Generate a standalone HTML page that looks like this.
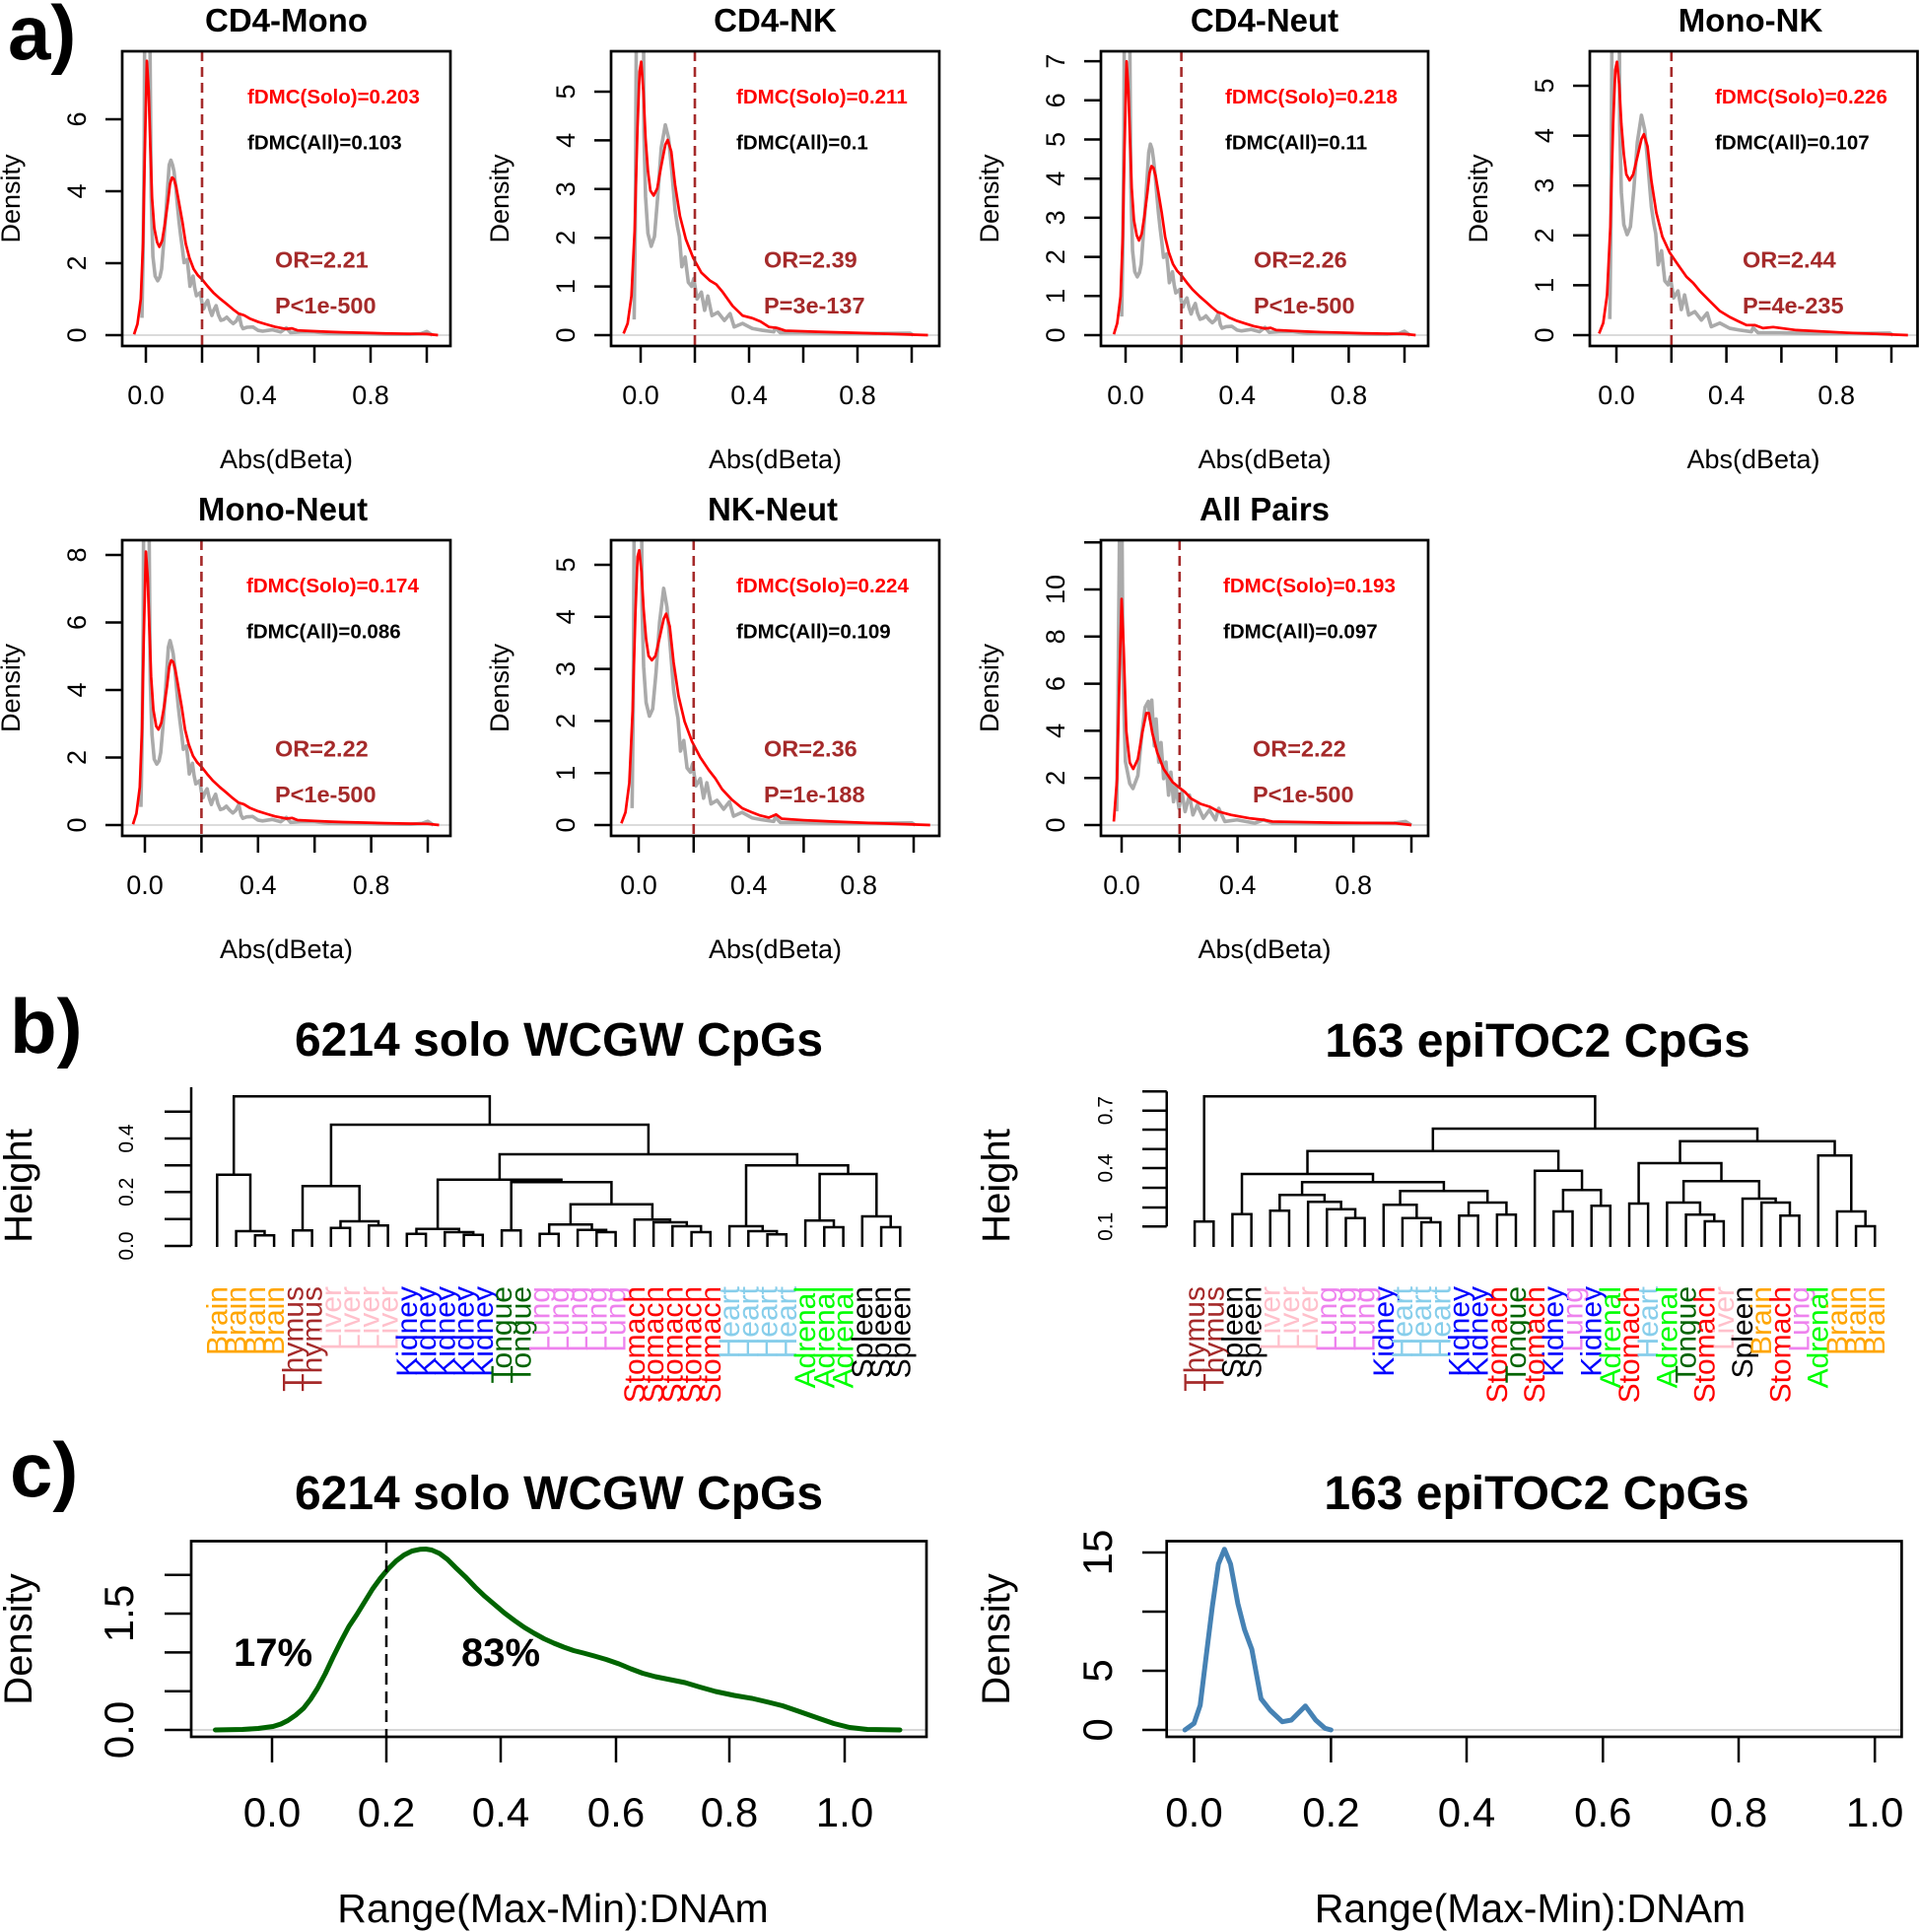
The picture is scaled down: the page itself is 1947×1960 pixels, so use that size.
<!DOCTYPE html>
<html><head><meta charset="utf-8"><style>
html,body{margin:0;padding:0;background:#fff;}
svg{display:block;}
svg text{font-family:"Liberation Sans",Arial,Helvetica,sans-serif;}
.bx{fill:none;stroke:#000;stroke-width:2.7}
.tk{fill:none;stroke:#000;stroke-width:2.5}
.zl{stroke:#cfcfcf;stroke-width:1.4}
.rd{fill:none;stroke:#ff0000;stroke-width:2.7;vector-effect:non-scaling-stroke;stroke-linejoin:round}
.gy{fill:none;stroke:#aaaaaa;stroke-width:3.6;vector-effect:non-scaling-stroke;stroke-linejoin:round}
.dl{stroke:#a52a2a;stroke-width:2.6;stroke-dasharray:10 6}
.t1{font-size:33px;font-weight:bold;text-anchor:middle}
.tl{font-size:27px;text-anchor:middle}
.fs{font-size:20.5px;font-weight:bold;fill:#ff0000}
.fa{font-size:20.5px;font-weight:bold;fill:#000}
.or{font-size:23.5px;font-weight:bold;fill:#a52a2a}
.pl{font-size:78px;font-weight:bold}
.bt{font-size:48px;font-weight:bold;text-anchor:middle}
.ht{font-size:40px;text-anchor:middle}
.dt{font-size:21px;text-anchor:middle}
.ct{font-size:42px;text-anchor:middle}
.lb{font-size:30px;text-anchor:end}
</style></head><body>
<svg width="1947" height="1960" viewBox="0 0 1947 1960" xmlns="http://www.w3.org/2000/svg">
<defs>
<clipPath id="c1"><rect x="124" y="52" width="333" height="299"/></clipPath>
<clipPath id="c2"><rect x="620" y="52" width="333" height="299"/></clipPath>
<clipPath id="c3"><rect x="1117" y="52" width="332" height="299"/></clipPath>
<clipPath id="c4"><rect x="1613" y="52" width="332.5" height="299"/></clipPath>
<clipPath id="c5"><rect x="124" y="548" width="333" height="300"/></clipPath>
<clipPath id="c6"><rect x="620" y="548" width="333" height="300"/></clipPath>
<clipPath id="c7"><rect x="1117" y="548" width="332" height="300"/></clipPath>
</defs>
<rect x="0" y="0" width="1947" height="1960" fill="#fff"/>

<!-- panel letters -->
<text class="pl" x="8" y="60">a)</text>
<text class="pl" x="10" y="1068">b)</text>
<text class="pl" x="10" y="1518">c)</text>

<!-- ============ Plot 1 CD4-Mono ============ -->
<g>
<line class="zl" x1="124" y1="340" x2="457" y2="340"/>
<g clip-path="url(#c1)"><g transform="translate(148,340) scale(285,-159.9)">
<path class="gy" d="M-0.014,0.11 L-0.01,0.5 L-0.006,1.2 L-0.003,2.5 L0,3.5 L0.01,3.5 L0.014,2 L0.019,0.87 L0.025,0.5 L0.033,0.375 L0.042,0.345 L0.05,0.37 L0.056,0.42 L0.064,0.6 L0.071,0.77 L0.078,0.95 L0.083,1.08 L0.089,1.11 L0.095,1.08 L0.1,1.04 L0.106,0.95 L0.112,0.83 L0.118,0.72 L0.124,0.63 L0.13,0.55 L0.136,0.46 L0.142,0.47 L0.147,0.48 L0.152,0.4 L0.157,0.31 L0.162,0.34 L0.168,0.375 L0.174,0.3 L0.18,0.25 L0.187,0.26 L0.194,0.27 L0.2,0.2 L0.206,0.167 L0.213,0.2 L0.22,0.22 L0.228,0.16 L0.235,0.125 L0.242,0.16 L0.25,0.187 L0.258,0.13 L0.267,0.094 L0.278,0.1 L0.288,0.114 L0.3,0.09 L0.311,0.073 L0.322,0.09 L0.332,0.125 L0.34,0.06 L0.346,0.041 L0.36,0.05 L0.381,0.052 L0.4,0.03 L0.416,0.025 L0.45,0.034 L0.48,0.02 L0.5,0.046 L0.515,0.016 L0.55,0.02 L0.6,0.02 L0.65,0.011 L0.7,0.01 L0.77,0.009 L0.85,0.006 L0.94,0.005 L0.98,0.01 L1,0.023 L1.02,0"/>
<path class="rd" d="M-0.042,0.005 L-0.03,0.07 L-0.018,0.23 L-0.01,0.59 L-0.004,1.14 L0.0035,1.74 L0.01,1.55 L0.016,1.19 L0.022,0.87 L0.03,0.68 L0.04,0.59 L0.048,0.56 L0.058,0.6 L0.068,0.71 L0.078,0.84 L0.086,0.96 L0.093,1 L0.1,0.99 L0.108,0.94 L0.118,0.84 L0.13,0.72 L0.142,0.58 L0.155,0.49 L0.17,0.42 L0.185,0.38 L0.2,0.354 L0.22,0.31 L0.24,0.27 L0.265,0.23 L0.29,0.194 L0.31,0.164 L0.33,0.137 L0.35,0.126 L0.37,0.105 L0.4,0.084 L0.43,0.068 L0.46,0.053 L0.5,0.039 L0.52,0.043 L0.54,0.03 L0.6,0.025 L0.65,0.021 L0.7,0.018 L0.77,0.015 L0.85,0.011 L0.92,0.009 L1,0.007 L1.04,0"/>
</g></g>
<line class="dl" x1="205" y1="52" x2="205" y2="351"/>
<rect class="bx" x="124" y="52" width="333" height="299"/>
<path class="tk" d="M148,351v17M205,351v17M262,351v17M319,351v17M376,351v17M433,351v17M107,340h17M107,267h17M107,194h17M107,121h17"/>
<text class="tl" x="148" y="410">0.0</text><text class="tl" x="262" y="410">0.4</text><text class="tl" x="376" y="410">0.8</text>
<text class="tl" transform="translate(87,340) rotate(-90)">0</text>
<text class="tl" transform="translate(87,267) rotate(-90)">2</text>
<text class="tl" transform="translate(87,194) rotate(-90)">4</text>
<text class="tl" transform="translate(87,121) rotate(-90)">6</text>
<text class="tl" transform="translate(20,201.5) rotate(-90)">Density</text>
<text class="tl" x="290.5" y="475">Abs(dBeta)</text>
<text class="t1" x="290.5" y="32">CD4-Mono</text>
<text class="fs" x="251" y="105">fDMC(Solo)=0.203</text>
<text class="fa" x="251" y="151.5">fDMC(All)=0.103</text>
<text class="or" x="279" y="271.5">OR=2.21</text>
<text class="or" x="279" y="318">P&lt;1e-500</text>
</g>

<!-- ============ Plot 2 CD4-NK ============ -->
<g>
<line class="zl" x1="620" y1="340" x2="953" y2="340"/>
<g clip-path="url(#c2)"><g transform="translate(650,340) scale(275,-198.1)">
<path class="gy" d="M-0.024,0.08 L-0.02,0.54 L-0.015,1.8 L-0.012,3 L0.007,3 L0.012,1.04 L0.018,0.71 L0.027,0.52 L0.039,0.455 L0.051,0.505 L0.063,0.71 L0.076,0.96 L0.091,1.077 L0.103,1.01 L0.115,0.84 L0.127,0.64 L0.136,0.555 L0.143,0.505 L0.152,0.35 L0.164,0.4 L0.176,0.27 L0.188,0.25 L0.196,0.29 L0.208,0.185 L0.224,0.22 L0.236,0.127 L0.248,0.2 L0.263,0.1 L0.285,0.117 L0.309,0.075 L0.33,0.11 L0.345,0.042 L0.376,0.06 L0.412,0.034 L0.448,0.025 L0.491,0.017 L0.497,0.037 L0.515,0.012 L0.594,0.012 L0.715,0.008 L0.836,0.008 L0.994,0.01 L1.006,0"/>
<path class="rd" d="M-0.063,0.008 L-0.048,0.06 L-0.034,0.2 L-0.022,0.54 L-0.012,1.05 L-0.004,1.35 L0.002,1.4 L0.01,1.25 L0.018,1.01 L0.027,0.84 L0.036,0.74 L0.048,0.715 L0.061,0.75 L0.075,0.86 L0.091,0.975 L0.1,1 L0.113,0.94 L0.127,0.77 L0.145,0.61 L0.167,0.49 L0.194,0.395 L0.224,0.32 L0.255,0.28 L0.279,0.26 L0.303,0.22 L0.339,0.15 L0.376,0.1 L0.412,0.087 L0.442,0.07 L0.473,0.042 L0.503,0.037 L0.533,0.023 L0.654,0.017 L0.836,0.01 L1.06,0"/>
</g></g>
<line class="dl" x1="705" y1="52" x2="705" y2="351"/>
<rect class="bx" x="620" y="52" width="333" height="299"/>
<path class="tk" d="M650,351v17M705,351v17M760,351v17M815,351v17M870,351v17M925,351v17M603,340h17M603,290.6h17M603,241.2h17M603,191.8h17M603,142.4h17M603,93h17"/>
<text class="tl" x="650" y="410">0.0</text><text class="tl" x="760" y="410">0.4</text><text class="tl" x="870" y="410">0.8</text>
<text class="tl" transform="translate(583,340) rotate(-90)">0</text>
<text class="tl" transform="translate(583,290.6) rotate(-90)">1</text>
<text class="tl" transform="translate(583,241.2) rotate(-90)">2</text>
<text class="tl" transform="translate(583,191.8) rotate(-90)">3</text>
<text class="tl" transform="translate(583,142.4) rotate(-90)">4</text>
<text class="tl" transform="translate(583,93) rotate(-90)">5</text>
<text class="tl" transform="translate(516,201.5) rotate(-90)">Density</text>
<text class="tl" x="786.5" y="475">Abs(dBeta)</text>
<text class="t1" x="786.5" y="32">CD4-NK</text>
<text class="fs" x="747" y="105">fDMC(Solo)=0.211</text>
<text class="fa" x="747" y="151.5">fDMC(All)=0.1</text>
<text class="or" x="775" y="271.5">OR=2.39</text>
<text class="or" x="775" y="318">P=3e-137</text>
</g>

<!-- ============ Plot 3 CD4-Neut ============ -->
<g>
<line class="zl" x1="1117" y1="340" x2="1449" y2="340"/>
<g clip-path="url(#c3)"><g transform="translate(1142,340) scale(283,-171.5)">
<path class="gy" d="M-0.014,0.11 L-0.01,0.5 L-0.006,1.2 L-0.003,2.5 L0,3.5 L0.01,3.5 L0.014,2 L0.019,0.87 L0.025,0.5 L0.033,0.375 L0.042,0.345 L0.05,0.37 L0.056,0.42 L0.064,0.6 L0.071,0.77 L0.078,0.95 L0.083,1.08 L0.089,1.13 L0.095,1.1 L0.1,1.04 L0.106,0.95 L0.112,0.83 L0.118,0.72 L0.124,0.63 L0.13,0.55 L0.136,0.46 L0.142,0.47 L0.147,0.48 L0.152,0.4 L0.157,0.31 L0.162,0.34 L0.168,0.375 L0.174,0.3 L0.18,0.25 L0.187,0.26 L0.194,0.27 L0.2,0.2 L0.206,0.167 L0.213,0.2 L0.22,0.22 L0.228,0.16 L0.235,0.125 L0.242,0.16 L0.25,0.187 L0.258,0.13 L0.267,0.094 L0.278,0.1 L0.288,0.114 L0.3,0.09 L0.311,0.073 L0.322,0.09 L0.332,0.125 L0.34,0.06 L0.346,0.041 L0.36,0.05 L0.381,0.052 L0.4,0.03 L0.416,0.025 L0.45,0.034 L0.48,0.02 L0.5,0.046 L0.515,0.016 L0.55,0.02 L0.6,0.02 L0.65,0.011 L0.7,0.01 L0.77,0.009 L0.85,0.006 L0.94,0.005 L0.98,0.01 L1,0.023 L1.02,0"/>
<path class="rd" d="M-0.042,0.005 L-0.03,0.07 L-0.018,0.23 L-0.01,0.59 L-0.004,1.1 L0.0035,1.62 L0.01,1.45 L0.016,1.15 L0.022,0.87 L0.03,0.68 L0.04,0.59 L0.048,0.56 L0.058,0.6 L0.068,0.71 L0.078,0.84 L0.086,0.96 L0.093,1 L0.1,0.99 L0.108,0.94 L0.118,0.84 L0.13,0.72 L0.142,0.58 L0.155,0.49 L0.17,0.42 L0.185,0.38 L0.2,0.354 L0.22,0.31 L0.24,0.27 L0.265,0.23 L0.29,0.194 L0.31,0.164 L0.33,0.137 L0.35,0.126 L0.37,0.105 L0.4,0.084 L0.43,0.068 L0.46,0.053 L0.5,0.039 L0.52,0.043 L0.54,0.03 L0.6,0.025 L0.65,0.021 L0.7,0.018 L0.77,0.015 L0.85,0.011 L0.92,0.009 L1,0.007 L1.04,0"/>
</g></g>
<line class="dl" x1="1198.6" y1="52" x2="1198.6" y2="351"/>
<rect class="bx" x="1117" y="52" width="332" height="299"/>
<path class="tk" d="M1142,351v17M1198.6,351v17M1255.2,351v17M1311.8,351v17M1368.4,351v17M1425,351v17M1100,340h17M1100,300.3h17M1100,260.6h17M1100,220.9h17M1100,181.2h17M1100,141.5h17M1100,101.8h17M1100,62.1h17"/>
<text class="tl" x="1142" y="410">0.0</text><text class="tl" x="1255.2" y="410">0.4</text><text class="tl" x="1368.4" y="410">0.8</text>
<text class="tl" transform="translate(1080,340) rotate(-90)">0</text>
<text class="tl" transform="translate(1080,300.3) rotate(-90)">1</text>
<text class="tl" transform="translate(1080,260.6) rotate(-90)">2</text>
<text class="tl" transform="translate(1080,220.9) rotate(-90)">3</text>
<text class="tl" transform="translate(1080,181.2) rotate(-90)">4</text>
<text class="tl" transform="translate(1080,141.5) rotate(-90)">5</text>
<text class="tl" transform="translate(1080,101.8) rotate(-90)">6</text>
<text class="tl" transform="translate(1080,62.1) rotate(-90)">7</text>
<text class="tl" transform="translate(1013,201.5) rotate(-90)">Density</text>
<text class="tl" x="1283" y="475">Abs(dBeta)</text>
<text class="t1" x="1283" y="32">CD4-Neut</text>
<text class="fs" x="1243" y="105">fDMC(Solo)=0.218</text>
<text class="fa" x="1243" y="151.5">fDMC(All)=0.11</text>
<text class="or" x="1272" y="271.5">OR=2.26</text>
<text class="or" x="1272" y="318">P&lt;1e-500</text>
</g>

<!-- ============ Plot 4 Mono-NK ============ -->
<g>
<line class="zl" x1="1613" y1="340" x2="1945.5" y2="340"/>
<g clip-path="url(#c4)"><g transform="translate(1640,340) scale(279,-203.9)">
<path class="gy" d="M-0.024,0.08 L-0.02,0.54 L-0.015,1.8 L-0.012,3 L0.007,3 L0.012,1.04 L0.018,0.71 L0.027,0.55 L0.039,0.5 L0.051,0.54 L0.063,0.72 L0.076,0.96 L0.091,1.094 L0.103,1.02 L0.115,0.84 L0.127,0.64 L0.136,0.555 L0.143,0.505 L0.152,0.35 L0.164,0.42 L0.176,0.27 L0.188,0.25 L0.196,0.29 L0.208,0.185 L0.224,0.22 L0.236,0.127 L0.248,0.2 L0.263,0.1 L0.285,0.117 L0.309,0.075 L0.33,0.11 L0.345,0.042 L0.376,0.06 L0.412,0.034 L0.448,0.025 L0.491,0.017 L0.497,0.037 L0.515,0.012 L0.594,0.012 L0.715,0.008 L0.836,0.008 L0.994,0.01 L1.006,0"/>
<path class="rd" d="M-0.063,0.008 L-0.048,0.06 L-0.034,0.2 L-0.022,0.54 L-0.012,1.05 L-0.004,1.32 L0.002,1.36 L0.01,1.25 L0.018,1.05 L0.027,0.9 L0.036,0.8 L0.048,0.77 L0.061,0.8 L0.075,0.88 L0.091,0.975 L0.1,1 L0.113,0.94 L0.127,0.77 L0.145,0.61 L0.167,0.49 L0.194,0.41 L0.224,0.35 L0.255,0.29 L0.279,0.26 L0.303,0.22 L0.339,0.17 L0.376,0.12 L0.412,0.09 L0.442,0.07 L0.473,0.05 L0.503,0.05 L0.533,0.035 L0.57,0.04 L0.654,0.025 L0.836,0.012 L1.06,0"/>
</g></g>
<line class="dl" x1="1695.8" y1="52" x2="1695.8" y2="351"/>
<rect class="bx" x="1613" y="52" width="332.5" height="299"/>
<path class="tk" d="M1640,351v17M1695.8,351v17M1751.6,351v17M1807.4,351v17M1863.2,351v17M1919,351v17M1596,340h17M1596,289.4h17M1596,238.8h17M1596,188.2h17M1596,137.6h17M1596,87h17"/>
<text class="tl" x="1640" y="410">0.0</text><text class="tl" x="1751.6" y="410">0.4</text><text class="tl" x="1863.2" y="410">0.8</text>
<text class="tl" transform="translate(1576,340) rotate(-90)">0</text>
<text class="tl" transform="translate(1576,289.4) rotate(-90)">1</text>
<text class="tl" transform="translate(1576,238.8) rotate(-90)">2</text>
<text class="tl" transform="translate(1576,188.2) rotate(-90)">3</text>
<text class="tl" transform="translate(1576,137.6) rotate(-90)">4</text>
<text class="tl" transform="translate(1576,87) rotate(-90)">5</text>
<text class="tl" transform="translate(1509,201.5) rotate(-90)">Density</text>
<text class="tl" x="1779" y="475">Abs(dBeta)</text>
<text class="t1" x="1776" y="32">Mono-NK</text>
<text class="fs" x="1740" y="105">fDMC(Solo)=0.226</text>
<text class="fa" x="1740" y="151.5">fDMC(All)=0.107</text>
<text class="or" x="1768" y="271.5">OR=2.44</text>
<text class="or" x="1768" y="318">P=4e-235</text>
</g>

<!-- ============ Plot 5 Mono-Neut ============ -->
<g>
<line class="zl" x1="124" y1="837" x2="457" y2="837"/>
<g clip-path="url(#c5)"><g transform="translate(147,837) scale(287,-167.1)">
<path class="gy" d="M-0.014,0.11 L-0.01,0.5 L-0.006,1.2 L-0.003,2.5 L0,3.5 L0.01,3.5 L0.014,2 L0.019,0.87 L0.025,0.55 L0.033,0.4 L0.042,0.37 L0.05,0.39 L0.056,0.44 L0.064,0.6 L0.071,0.77 L0.078,0.95 L0.083,1.08 L0.089,1.12 L0.095,1.08 L0.1,1.04 L0.106,0.95 L0.112,0.83 L0.118,0.72 L0.124,0.63 L0.13,0.55 L0.136,0.46 L0.142,0.47 L0.147,0.48 L0.152,0.4 L0.157,0.31 L0.162,0.34 L0.168,0.375 L0.174,0.3 L0.18,0.25 L0.187,0.26 L0.194,0.27 L0.2,0.2 L0.206,0.167 L0.213,0.2 L0.22,0.22 L0.228,0.16 L0.235,0.125 L0.242,0.16 L0.25,0.187 L0.258,0.13 L0.267,0.094 L0.278,0.1 L0.288,0.114 L0.3,0.09 L0.311,0.073 L0.322,0.09 L0.332,0.125 L0.34,0.06 L0.346,0.041 L0.36,0.05 L0.381,0.052 L0.4,0.03 L0.416,0.025 L0.45,0.034 L0.48,0.02 L0.5,0.046 L0.515,0.016 L0.55,0.02 L0.6,0.02 L0.65,0.011 L0.7,0.01 L0.77,0.009 L0.85,0.006 L0.94,0.005 L0.98,0.01 L1,0.023 L1.02,0"/>
<path class="rd" d="M-0.042,0.005 L-0.03,0.07 L-0.018,0.23 L-0.01,0.59 L-0.004,1.14 L0.0035,1.66 L0.01,1.5 L0.016,1.19 L0.022,0.9 L0.03,0.7 L0.04,0.6 L0.048,0.58 L0.058,0.62 L0.068,0.72 L0.078,0.84 L0.086,0.96 L0.093,1 L0.1,0.99 L0.108,0.94 L0.118,0.84 L0.13,0.72 L0.142,0.58 L0.155,0.49 L0.17,0.42 L0.185,0.38 L0.2,0.354 L0.22,0.31 L0.24,0.27 L0.265,0.23 L0.29,0.194 L0.31,0.164 L0.33,0.137 L0.35,0.126 L0.37,0.105 L0.4,0.084 L0.43,0.068 L0.46,0.053 L0.5,0.039 L0.52,0.043 L0.54,0.03 L0.6,0.025 L0.65,0.021 L0.7,0.018 L0.77,0.015 L0.85,0.011 L0.92,0.009 L1,0.007 L1.04,0"/>
</g></g>
<line class="dl" x1="204.4" y1="548" x2="204.4" y2="848"/>
<rect class="bx" x="124" y="548" width="333" height="300"/>
<path class="tk" d="M147,848v17M204.4,848v17M261.8,848v17M319.2,848v17M376.6,848v17M434,848v17M107,837h17M107,768.5h17M107,700h17M107,631.5h17M107,563h17"/>
<text class="tl" x="147" y="907">0.0</text><text class="tl" x="261.8" y="907">0.4</text><text class="tl" x="376.6" y="907">0.8</text>
<text class="tl" transform="translate(87,837) rotate(-90)">0</text>
<text class="tl" transform="translate(87,768.5) rotate(-90)">2</text>
<text class="tl" transform="translate(87,700) rotate(-90)">4</text>
<text class="tl" transform="translate(87,631.5) rotate(-90)">6</text>
<text class="tl" transform="translate(87,563) rotate(-90)">8</text>
<text class="tl" transform="translate(20,698) rotate(-90)">Density</text>
<text class="tl" x="290.5" y="972">Abs(dBeta)</text>
<text class="t1" x="287" y="528">Mono-Neut</text>
<text class="fs" x="250" y="601">fDMC(Solo)=0.174</text>
<text class="fa" x="250" y="647.5">fDMC(All)=0.086</text>
<text class="or" x="279" y="767.5">OR=2.22</text>
<text class="or" x="279" y="814">P&lt;1e-500</text>
</g>

<!-- ============ Plot 6 NK-Neut ============ -->
<g>
<line class="zl" x1="620" y1="837" x2="953" y2="837"/>
<g clip-path="url(#c6)"><g transform="translate(648,837) scale(279,-214.4)">
<path class="gy" d="M-0.024,0.08 L-0.02,0.54 L-0.015,1.8 L-0.012,3 L0.007,3 L0.012,1.04 L0.018,0.75 L0.027,0.58 L0.039,0.515 L0.051,0.55 L0.063,0.72 L0.076,0.96 L0.091,1.12 L0.103,1.03 L0.115,0.84 L0.127,0.64 L0.136,0.555 L0.143,0.505 L0.152,0.35 L0.164,0.4 L0.176,0.27 L0.188,0.25 L0.196,0.29 L0.208,0.185 L0.224,0.22 L0.236,0.127 L0.248,0.2 L0.263,0.1 L0.285,0.117 L0.309,0.075 L0.33,0.11 L0.345,0.042 L0.376,0.06 L0.412,0.034 L0.448,0.025 L0.491,0.017 L0.497,0.037 L0.515,0.012 L0.594,0.012 L0.715,0.008 L0.836,0.008 L0.994,0.01 L1.006,0"/>
<path class="rd" d="M-0.063,0.008 L-0.048,0.06 L-0.034,0.2 L-0.022,0.54 L-0.012,1.0 L-0.004,1.27 L0.002,1.3 L0.01,1.2 L0.018,1.02 L0.027,0.88 L0.036,0.8 L0.048,0.78 L0.061,0.8 L0.075,0.88 L0.091,0.975 L0.1,1 L0.113,0.94 L0.127,0.77 L0.145,0.61 L0.167,0.49 L0.194,0.395 L0.224,0.32 L0.255,0.26 L0.279,0.22 L0.303,0.17 L0.339,0.12 L0.376,0.08 L0.412,0.06 L0.442,0.045 L0.473,0.035 L0.5,0.05 L0.52,0.03 L0.6,0.023 L0.7,0.017 L0.836,0.01 L1.06,0"/>
</g></g>
<line class="dl" x1="703.8" y1="548" x2="703.8" y2="848"/>
<rect class="bx" x="620" y="548" width="333" height="300"/>
<path class="tk" d="M648,848v17M703.8,848v17M759.6,848v17M815.4,848v17M871.2,848v17M927,848v17M603,837h17M603,784.2h17M603,731.4h17M603,678.6h17M603,625.8h17M603,573h17"/>
<text class="tl" x="648" y="907">0.0</text><text class="tl" x="759.6" y="907">0.4</text><text class="tl" x="871.2" y="907">0.8</text>
<text class="tl" transform="translate(583,837) rotate(-90)">0</text>
<text class="tl" transform="translate(583,784.2) rotate(-90)">1</text>
<text class="tl" transform="translate(583,731.4) rotate(-90)">2</text>
<text class="tl" transform="translate(583,678.6) rotate(-90)">3</text>
<text class="tl" transform="translate(583,625.8) rotate(-90)">4</text>
<text class="tl" transform="translate(583,573) rotate(-90)">5</text>
<text class="tl" transform="translate(516,698) rotate(-90)">Density</text>
<text class="tl" x="786.5" y="972">Abs(dBeta)</text>
<text class="t1" x="784" y="528">NK-Neut</text>
<text class="fs" x="747" y="601">fDMC(Solo)=0.224</text>
<text class="fa" x="747" y="647.5">fDMC(All)=0.109</text>
<text class="or" x="775" y="767.5">OR=2.36</text>
<text class="or" x="775" y="814">P=1e-188</text>
</g>

<!-- ============ Plot 7 All Pairs ============ -->
<g>
<line class="zl" x1="1117" y1="837" x2="1449" y2="837"/>
<g clip-path="url(#c7)"><g transform="translate(1138,837) scale(294,-23.9)">
<path class="gy" d="M-0.017,0.58 L-0.013,4.8 L-0.007,13 L0.001,13 L0.005,6.2 L0.013,2.7 L0.028,1.76 L0.039,1.55 L0.056,2.1 L0.07,3.9 L0.081,5 L0.092,5.25 L0.098,4.5 L0.104,5.3 L0.113,3.36 L0.119,4.5 L0.128,2.67 L0.136,3.5 L0.145,1.97 L0.153,2.67 L0.162,1.27 L0.17,2.24 L0.179,0.99 L0.187,1.69 L0.198,0.71 L0.208,1.41 L0.219,0.57 L0.234,1.27 L0.246,0.43 L0.261,0.85 L0.282,0.29 L0.303,0.64 L0.324,0.22 L0.335,0.71 L0.356,0.15 L0.398,0.22 L0.46,0.08 L0.49,0.22 L0.52,0.08 L0.73,0.06 L0.94,0.08 L0.98,0.15 L1,0"/>
<path class="rd" d="M-0.027,0.15 L-0.016,1.95 L-0.008,6.1 L0,9.6 L0.007,7.5 L0.016,4 L0.028,2.65 L0.04,2.38 L0.056,2.8 L0.071,3.9 L0.085,4.75 L0.094,4.75 L0.106,3.9 L0.123,3.07 L0.145,2.38 L0.176,1.82 L0.198,1.6 L0.219,1.4 L0.24,1.12 L0.272,0.9 L0.303,0.78 L0.335,0.57 L0.377,0.43 L0.44,0.29 L0.49,0.22 L0.52,0.15 L0.73,0.1 L0.94,0.08 L1,0"/>
</g></g>
<line class="dl" x1="1196.8" y1="548" x2="1196.8" y2="848"/>
<rect class="bx" x="1117" y="548" width="332" height="300"/>
<path class="tk" d="M1138,848v17M1196.8,848v17M1255.6,848v17M1314.4,848v17M1373.2,848v17M1432,848v17M1100,837h17M1100,789.2h17M1100,741.4h17M1100,693.6h17M1100,645.8h17M1100,598h17M1100,550.2h17"/>
<text class="tl" x="1138" y="907">0.0</text><text class="tl" x="1255.6" y="907">0.4</text><text class="tl" x="1373.2" y="907">0.8</text>
<text class="tl" transform="translate(1080,837) rotate(-90)">0</text>
<text class="tl" transform="translate(1080,789.2) rotate(-90)">2</text>
<text class="tl" transform="translate(1080,741.4) rotate(-90)">4</text>
<text class="tl" transform="translate(1080,693.6) rotate(-90)">6</text>
<text class="tl" transform="translate(1080,645.8) rotate(-90)">8</text>
<text class="tl" transform="translate(1080,598) rotate(-90)">10</text>
<text class="tl" transform="translate(1013,698) rotate(-90)">Density</text>
<text class="tl" x="1283" y="972">Abs(dBeta)</text>
<text class="t1" x="1283" y="528">All Pairs</text>
<text class="fs" x="1241" y="601">fDMC(Solo)=0.193</text>
<text class="fa" x="1241" y="647.5">fDMC(All)=0.097</text>
<text class="or" x="1271" y="767.5">OR=2.22</text>
<text class="or" x="1271" y="814">P&lt;1e-500</text>
</g>

<!-- ============ Panel b left dendrogram ============ -->
<text class="bt" x="567" y="1071">6214 solo WCGW CpGs</text>
<text class="ht" transform="translate(32,1203) rotate(-90)">Height</text>
<path class="tk" d="M194,1103V1264M167,1264h27M167,1236.7h27M167,1209.3h27M167,1182.3h27M167,1155h27M167,1127.7h27"/>
<text class="dt" transform="translate(135,1264) rotate(-90)">0.0</text>
<text class="dt" transform="translate(135,1209.3) rotate(-90)">0.2</text>
<text class="dt" transform="translate(135,1155) rotate(-90)">0.4</text>
<path class="tk" d="M258.8,1265V1253.3H278.1V1265 M239.6,1265V1249H268.45V1253.3 M220.3,1265V1191.7H254V1249 M297.3,1265V1248.3H316.6V1265 M335.8,1265V1245.7H355.1V1265 M374.3,1265V1243.3H393.6V1265 M345.5,1245.7V1239H384V1243.3 M307,1248.3V1203.3H364.7V1239 M412.8,1265V1251.7H432.1V1265 M470.6,1265V1252.7H489.8V1265 M451.3,1265V1250H480.2V1252.7 M422.5,1251.7V1246.7H465.8V1250 M509.1,1265V1248.3H528.3V1265 M547.6,1265V1251.7H566.8V1265 M605.3,1265V1250H624.6V1265 M586.1,1265V1247.7H615V1250 M557.2,1251.7V1242.3H600.5V1247.7 M701.6,1265V1250H720.8V1265 M682.3,1265V1244H711.2V1250 M663.1,1265V1240H696.8V1244 M643.8,1265V1237.3H679.9V1240 M578.9,1242.3V1221.7H661.9V1237.3 M518.7,1248.3V1199.3H620.4V1221.7 M444.1,1246.7V1196.7H569.6V1199.3 M778.6,1265V1252.3H797.8V1265 M759.3,1265V1249H788.2V1252.3 M740.1,1265V1244H773.8V1249 M836.3,1265V1245H855.6V1265 M817.1,1265V1238.3H846V1245 M894.1,1265V1245H913.3V1265 M874.8,1265V1234H903.7V1245 M831.6,1238.3V1191H889.3V1234 M757,1244V1182.3H860.5V1191 M506.9,1196.7V1171H808.8V1182.3 M335.9,1203.3V1141H657.9V1171 M237.2,1191.7V1112.3H496.9V1141"/>
<g>
<text class="lb" fill="#FFA500" transform="translate(230.3,1305) rotate(-90)">Brain</text>
<text class="lb" fill="#FFA500" transform="translate(249.6,1305) rotate(-90)">Brain</text>
<text class="lb" fill="#FFA500" transform="translate(268.8,1305) rotate(-90)">Brain</text>
<text class="lb" fill="#FFA500" transform="translate(288.1,1305) rotate(-90)">Brain</text>
<text class="lb" fill="#A52A2A" transform="translate(307.3,1305) rotate(-90)">Thymus</text>
<text class="lb" fill="#A52A2A" transform="translate(326.6,1305) rotate(-90)">Thymus</text>
<text class="lb" fill="#FFC0CB" transform="translate(345.8,1305) rotate(-90)">Liver</text>
<text class="lb" fill="#FFC0CB" transform="translate(365.1,1305) rotate(-90)">Liver</text>
<text class="lb" fill="#FFC0CB" transform="translate(384.3,1305) rotate(-90)">Liver</text>
<text class="lb" fill="#FFC0CB" transform="translate(403.6,1305) rotate(-90)">Liver</text>
<text class="lb" fill="#0000FF" transform="translate(422.8,1305) rotate(-90)">Kidney</text>
<text class="lb" fill="#0000FF" transform="translate(442.1,1305) rotate(-90)">Kidney</text>
<text class="lb" fill="#0000FF" transform="translate(461.3,1305) rotate(-90)">Kidney</text>
<text class="lb" fill="#0000FF" transform="translate(480.6,1305) rotate(-90)">Kidney</text>
<text class="lb" fill="#0000FF" transform="translate(499.8,1305) rotate(-90)">Kidney</text>
<text class="lb" fill="#006400" transform="translate(519.1,1305) rotate(-90)">Tongue</text>
<text class="lb" fill="#006400" transform="translate(538.3,1305) rotate(-90)">Tongue</text>
<text class="lb" fill="#EE82EE" transform="translate(557.6,1305) rotate(-90)">Lung</text>
<text class="lb" fill="#EE82EE" transform="translate(576.8,1305) rotate(-90)">Lung</text>
<text class="lb" fill="#EE82EE" transform="translate(596.1,1305) rotate(-90)">Lung</text>
<text class="lb" fill="#EE82EE" transform="translate(615.3,1305) rotate(-90)">Lung</text>
<text class="lb" fill="#EE82EE" transform="translate(634.6,1305) rotate(-90)">Lung</text>
<text class="lb" fill="#FF0000" transform="translate(653.8,1305) rotate(-90)">Stomach</text>
<text class="lb" fill="#FF0000" transform="translate(673.1,1305) rotate(-90)">Stomach</text>
<text class="lb" fill="#FF0000" transform="translate(692.3,1305) rotate(-90)">Stomach</text>
<text class="lb" fill="#FF0000" transform="translate(711.6,1305) rotate(-90)">Stomach</text>
<text class="lb" fill="#FF0000" transform="translate(730.8,1305) rotate(-90)">Stomach</text>
<text class="lb" fill="#87CEEB" transform="translate(750.1,1305) rotate(-90)">Heart</text>
<text class="lb" fill="#87CEEB" transform="translate(769.3,1305) rotate(-90)">Heart</text>
<text class="lb" fill="#87CEEB" transform="translate(788.6,1305) rotate(-90)">Heart</text>
<text class="lb" fill="#87CEEB" transform="translate(807.8,1305) rotate(-90)">Heart</text>
<text class="lb" fill="#00FF00" transform="translate(827.1,1305) rotate(-90)">Adrenal</text>
<text class="lb" fill="#00FF00" transform="translate(846.3,1305) rotate(-90)">Adrenal</text>
<text class="lb" fill="#00FF00" transform="translate(865.6,1305) rotate(-90)">Adrenal</text>
<text class="lb" fill="#000000" transform="translate(884.8,1305) rotate(-90)">Spleen</text>
<text class="lb" fill="#000000" transform="translate(904.1,1305) rotate(-90)">Spleen</text>
<text class="lb" fill="#000000" transform="translate(923.3,1305) rotate(-90)">Spleen</text>
</g>

<!-- ============ Panel b right dendrogram ============ -->
<text class="bt" x="1560" y="1072">163 epiTOC2 CpGs</text>
<text class="ht" transform="translate(1024,1203) rotate(-90)">Height</text>
<g transform="matrix(0.99533,0,0,1,4.67,0)">
<path class="tk" d="M1184.6,1107.3V1244.3M1159.8,1107.3h24.8M1159.8,1126.7h24.8M1159.8,1146h24.8M1159.8,1165.7h24.8M1159.8,1185h24.8M1159.8,1205h24.8M1159.8,1225h24.8M1159.8,1244.3h24.8"/>
<text class="dt" transform="translate(1129,1244.3) rotate(-90)">0.1</text>
<text class="dt" transform="translate(1129,1185) rotate(-90)">0.4</text>
<text class="dt" transform="translate(1129,1126.7) rotate(-90)">0.7</text>
<path class="tk" d="M1213.1,1265V1239.3H1232.4V1265 M1251.6,1265V1231.7H1270.9V1265 M1290.1,1265V1228.3H1309.4V1265 M1367.2,1265V1235.7H1386.4V1265 M1347.9,1265V1226.7H1376.8V1235.7 M1328.7,1265V1219.3H1362.35V1226.7 M1299.75,1228.3V1212.3H1345.5V1219.3 M1444.2,1265V1240H1463.5V1265 M1424.9,1265V1235.7H1453.85V1240 M1405.7,1265V1222.3H1439.4V1235.7 M1482.7,1265V1233.3H1502V1265 M1521.3,1265V1232.3H1540.5V1265 M1492.35,1233.3V1220H1530.9V1232.3 M1422.55,1222.3V1208.3H1511.6V1220 M1322.6,1212.3V1199.3H1467.1V1208.3 M1261.25,1231.7V1191H1394.85V1199.3 M1579,1265V1229H1598.3V1265 M1617.6,1265V1223.3H1636.8V1265 M1588.65,1229V1207.3H1627.2V1223.3 M1559.8,1265V1187.7H1607.9V1207.3 M1328.05,1191V1167.7H1583.85V1187.7 M1656.1,1265V1221H1675.3V1265 M1733.1,1265V1239H1752.4V1265 M1713.9,1265V1232.3H1742.75V1239 M1694.6,1265V1220H1728.3V1232.3 M1810.2,1265V1233.3H1829.4V1265 M1790.9,1265V1220H1819.8V1233.3 M1771.6,1265V1216H1805.35V1220 M1711.45,1220V1198.3H1788.5V1216 M1665.7,1221V1180H1750V1198.3 M1887.2,1265V1244H1906.5V1265 M1867.9,1265V1229H1896.85V1244 M1848.7,1265V1172.3H1882.4V1229 M1707.85,1180V1157.7H1865.55V1172.3 M1455.95,1167.7V1145H1786.7V1157.7 M1222.75,1239.3V1112.3H1621.3V1145"/>
<text class="lb" fill="#A52A2A" transform="translate(1223.1,1305) rotate(-90)">Thymus</text>
<text class="lb" fill="#A52A2A" transform="translate(1242.4,1305) rotate(-90)">Thymus</text>
<text class="lb" fill="#000000" transform="translate(1261.6,1305) rotate(-90)">Spleen</text>
<text class="lb" fill="#000000" transform="translate(1280.9,1305) rotate(-90)">Spleen</text>
<text class="lb" fill="#FFC0CB" transform="translate(1300.1,1305) rotate(-90)">Liver</text>
<text class="lb" fill="#FFC0CB" transform="translate(1319.4,1305) rotate(-90)">Liver</text>
<text class="lb" fill="#FFC0CB" transform="translate(1338.7,1305) rotate(-90)">Liver</text>
<text class="lb" fill="#EE82EE" transform="translate(1357.9,1305) rotate(-90)">Lung</text>
<text class="lb" fill="#EE82EE" transform="translate(1377.2,1305) rotate(-90)">Lung</text>
<text class="lb" fill="#EE82EE" transform="translate(1396.4,1305) rotate(-90)">Lung</text>
<text class="lb" fill="#0000FF" transform="translate(1415.7,1305) rotate(-90)">Kidney</text>
<text class="lb" fill="#87CEEB" transform="translate(1434.9,1305) rotate(-90)">Heart</text>
<text class="lb" fill="#87CEEB" transform="translate(1454.2,1305) rotate(-90)">Heart</text>
<text class="lb" fill="#87CEEB" transform="translate(1473.5,1305) rotate(-90)">Heart</text>
<text class="lb" fill="#0000FF" transform="translate(1492.7,1305) rotate(-90)">Kidney</text>
<text class="lb" fill="#0000FF" transform="translate(1512,1305) rotate(-90)">Kidney</text>
<text class="lb" fill="#FF0000" transform="translate(1531.3,1305) rotate(-90)">Stomach</text>
<text class="lb" fill="#006400" transform="translate(1550.5,1305) rotate(-90)">Tongue</text>
<text class="lb" fill="#FF0000" transform="translate(1569.8,1305) rotate(-90)">Stomach</text>
<text class="lb" fill="#0000FF" transform="translate(1589,1305) rotate(-90)">Kidney</text>
<text class="lb" fill="#EE82EE" transform="translate(1608.3,1305) rotate(-90)">Lung</text>
<text class="lb" fill="#0000FF" transform="translate(1627.6,1305) rotate(-90)">Kidney</text>
<text class="lb" fill="#00FF00" transform="translate(1646.8,1305) rotate(-90)">Adrenal</text>
<text class="lb" fill="#FF0000" transform="translate(1666.1,1305) rotate(-90)">Stomach</text>
<text class="lb" fill="#87CEEB" transform="translate(1685.3,1305) rotate(-90)">Heart</text>
<text class="lb" fill="#00FF00" transform="translate(1704.6,1305) rotate(-90)">Adrenal</text>
<text class="lb" fill="#006400" transform="translate(1723.9,1305) rotate(-90)">Tongue</text>
<text class="lb" fill="#FF0000" transform="translate(1743.1,1305) rotate(-90)">Stomach</text>
<text class="lb" fill="#FFC0CB" transform="translate(1762.4,1305) rotate(-90)">Liver</text>
<text class="lb" fill="#000000" transform="translate(1781.6,1305) rotate(-90)">Spleen</text>
<text class="lb" fill="#FFA500" transform="translate(1800.9,1305) rotate(-90)">Brain</text>
<text class="lb" fill="#FF0000" transform="translate(1820.2,1305) rotate(-90)">Stomach</text>
<text class="lb" fill="#EE82EE" transform="translate(1839.4,1305) rotate(-90)">Lung</text>
<text class="lb" fill="#00FF00" transform="translate(1858.7,1305) rotate(-90)">Adrenal</text>
<text class="lb" fill="#FFA500" transform="translate(1877.9,1305) rotate(-90)">Brain</text>
<text class="lb" fill="#FFA500" transform="translate(1897.2,1305) rotate(-90)">Brain</text>
<text class="lb" fill="#FFA500" transform="translate(1916.5,1305) rotate(-90)">Brain</text>
</g>

<!-- ============ Panel c left ============ -->
<text class="bt" x="567" y="1531">6214 solo WCGW CpGs</text>
<line x1="194" y1="1755" x2="940" y2="1755" stroke="#c8c8c8" stroke-width="1.6"/>
<path d="M218.5,1755 L246,1754.5 L262,1753.5 L277,1751.5 L285,1749 L292,1745.5 L300,1740 L308,1733 L315,1724 L322,1713 L330,1698 L338,1681 L346,1665 L354,1650 L362,1638 L370,1625 L378,1612 L386,1601 L394,1591.5 L402,1583.5 L410,1577.5 L418,1573.5 L426,1571.8 L432,1571.5 L438,1572.5 L446,1576 L454,1582 L462,1590 L472,1599.5 L482,1610 L492,1619.5 L502,1628 L512,1636.5 L522,1644 L532,1651 L542,1657 L552,1662.5 L562,1667 L572,1671 L582,1674.5 L592,1677 L603,1680 L615,1683.5 L628,1688 L640,1693 L652,1697.5 L665,1701 L680,1704 L695,1707 L710,1711.5 L726,1716 L745,1720 L763,1723 L780,1727 L794,1730.5 L810,1736 L830,1743 L846,1748.5 L862,1752.5 L880,1754.5 L913,1755" fill="none" stroke="#006400" stroke-width="5" stroke-linejoin="round" stroke-linecap="round"/>
<line x1="392" y1="1564" x2="392" y2="1763" stroke="#000" stroke-width="2.5" stroke-dasharray="12 7"/>
<rect class="bx" x="194" y="1563.5" width="746" height="198.5"/>
<path class="tk" d="M276,1762v26M392,1762v26M508,1762v26M625,1762v26M740,1762v26M857,1762v26M167,1755h27M167,1715.7h27M167,1676.4h27M167,1637h27M167,1597.7h27"/>
<text class="ct" x="276" y="1853">0.0</text>
<text class="ct" x="392" y="1853">0.2</text>
<text class="ct" x="508" y="1853">0.4</text>
<text class="ct" x="625" y="1853">0.6</text>
<text class="ct" x="740" y="1853">0.8</text>
<text class="ct" x="857" y="1853">1.0</text>
<text class="ct" transform="translate(135,1755) rotate(-90)">0.0</text>
<text class="ct" transform="translate(135,1637) rotate(-90)">1.5</text>
<text class="ht" transform="translate(32,1663) rotate(-90)">Density</text>
<text class="ht" x="561" y="1950" style="font-size:41px">Range(Max-Min):DNAm</text>
<text x="277" y="1690" style="font-size:40px;font-weight:bold;text-anchor:middle">17%</text>
<text x="508" y="1690" style="font-size:40px;font-weight:bold;text-anchor:middle">83%</text>

<!-- ============ Panel c right ============ -->
<text class="bt" x="1559" y="1531">163 epiTOC2 CpGs</text>
<line x1="1183.7" y1="1755" x2="1929.4" y2="1755" stroke="#c8c8c8" stroke-width="1.6"/>
<path d="M1202.2,1755 L1211.5,1748.3 L1217.7,1730 L1223.8,1680 L1230,1630 L1236.2,1586.7 L1242.3,1571.7 L1248.5,1586.7 L1255.9,1626.7 L1262.7,1653.3 L1270.1,1673.3 L1279.4,1723.3 L1288.6,1735 L1301,1746.7 L1310.2,1745 L1324.4,1730.7 L1334.9,1745 L1344.2,1753.3 L1350.4,1755" fill="none" stroke="#4682B4" stroke-width="5" stroke-linejoin="round" stroke-linecap="round"/>
<rect class="bx" x="1183.7" y="1563.5" width="745.7" height="198.5"/>
<path class="tk" d="M1211.5,1762v26M1350.4,1762v26M1488,1762v26M1626.3,1762v26M1764,1762v26M1902.2,1762v26M1159,1755h24.7M1159,1695h24.7M1159,1635h24.7M1159,1575h24.7"/>
<text class="ct" x="1211.5" y="1853">0.0</text>
<text class="ct" x="1350.4" y="1853">0.2</text>
<text class="ct" x="1488" y="1853">0.4</text>
<text class="ct" x="1626.3" y="1853">0.6</text>
<text class="ct" x="1764" y="1853">0.8</text>
<text class="ct" x="1902.2" y="1853">1.0</text>
<text class="ct" transform="translate(1128,1755) rotate(-90)">0</text>
<text class="ct" transform="translate(1128,1695) rotate(-90)">5</text>
<text class="ct" transform="translate(1128,1575) rotate(-90)">15</text>
<text class="ht" transform="translate(1024,1663) rotate(-90)">Density</text>
<text class="ht" x="1552.5" y="1950" style="font-size:41px">Range(Max-Min):DNAm</text>
</svg>
</body></html>
